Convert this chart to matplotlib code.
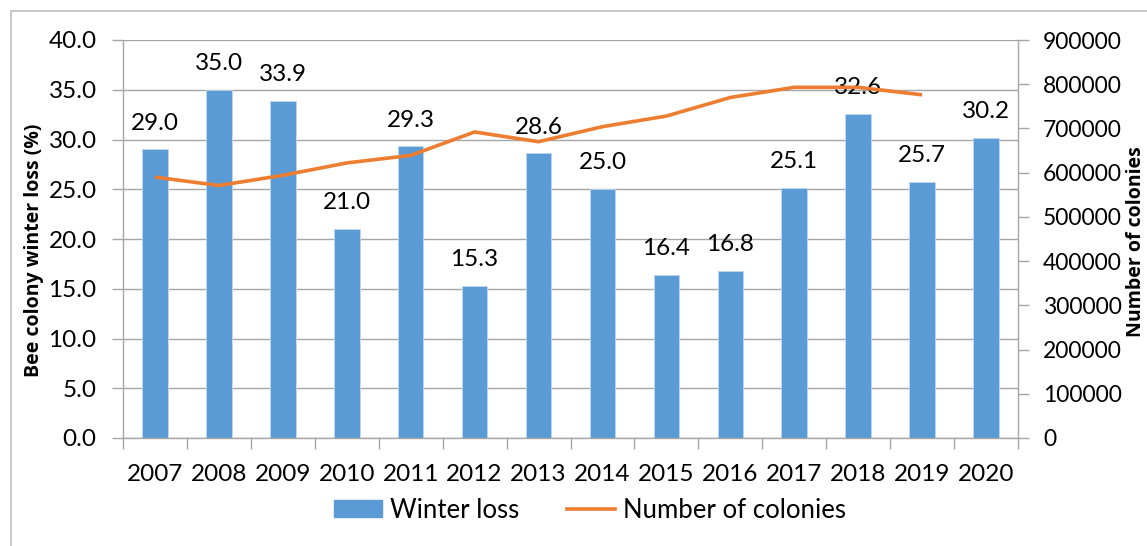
import matplotlib.pyplot as plt
from matplotlib.patches import Rectangle
from matplotlib.lines import Line2D
from matplotlib.patches import Patch
import numpy as np

years = ['2007', '2008', '2009', '2010', '2011', '2012', '2013',
         '2014', '2015', '2016', '2017', '2018', '2019', '2020']
winter_loss = [29.0, 35.0, 33.9, 21.0, 29.3, 15.3, 28.6,
               25.0, 16.4, 16.8, 25.1, 32.6, 25.7, 30.2]
colonies = [590000, 571000, 594000, 622000, 639000, 692000, 670000,
            704000, 728000, 770000, 793000, 793000, 776000]

blue = '#5B9BD5'
orange = '#ED7D31'
grey = '#A6A6A6'
fs = 17.5

plt.rcParams['font.family'] = ['Lato', 'DejaVu Sans']

fig = plt.figure(figsize=(11.47, 5.46), dpi=100)
fig.patches.append(Rectangle((11 / 1147, -0.1), 1.2, 1 - 11 / 546 + 0.1,
                             transform=fig.transFigure, fill=False,
                             edgecolor='#BFBFBF', linewidth=1.2))

ax = fig.add_axes([123 / 1147, 1 - 438 / 546, (1018 - 123) / 1147, (438 - 40) / 546])
x = np.arange(len(years))
ax.bar(x, winter_loss, width=0.4, color=blue, edgecolor='#BDD7EE',
       linewidth=0.6, zorder=2)
ax.set_xlim(-0.5, len(years) - 0.5)
ax.set_ylim(0, 40)
ax.set_yticks(np.arange(0, 41, 5))
ax.set_yticklabels([f'{v:.1f}' for v in np.arange(0, 41, 5)])
ax.yaxis.grid(True, color=grey, linewidth=1, zorder=0)
ax.set_axisbelow(True)
ax.set_xticks(x)
ax.set_xticklabels(years)
ax.set_xticks(np.arange(-0.5, len(years)), minor=True)
ax.tick_params(axis='x', which='major', length=0, labelsize=fs, pad=19)
ax.tick_params(axis='x', which='minor', length=8, color=grey, width=1, direction='out')
ax.tick_params(axis='y', length=8, color=grey, width=1, labelsize=fs, pad=11)
for s in ['top', 'right']:
    ax.spines[s].set_visible(False)
for s in ['left', 'bottom']:
    ax.spines[s].set_color(grey)
    ax.spines[s].set_linewidth(1)

for xi, v in zip(x, winter_loss):
    ax.annotate(f'{v:.1f}', (xi, v), xytext=(0, 19), textcoords='offset points',
                ha='center', va='center', fontsize=fs, zorder=4)

ax2 = ax.twinx()
ax2.plot(x[:len(colonies)], colonies, color=orange, linewidth=2.6, zorder=3,
         solid_capstyle='butt')
ax2.set_ylim(0, 900000)
ax2.set_yticks(np.arange(0, 900001, 100000))
ax2.tick_params(axis='y', length=8, color=grey, width=1, labelsize=16.5, pad=10)
for s in ['top', 'left', 'bottom']:
    ax2.spines[s].set_visible(False)
ax2.spines['right'].set_color(grey)
ax2.spines['right'].set_linewidth(1)

fig.text(34 / 1147, 1 - 250 / 546, 'Bee colony winter loss (%)', rotation=90,
         ha='center', va='center', fontsize=14, fontweight='bold', family='Open Sans')
fig.text(1146 / 1147, 1 - 242 / 546, 'Number of colonies', rotation=90,
         ha='right', va='center', fontsize=14, fontweight='bold', family='Open Sans')

handles = [Patch(facecolor=blue, edgecolor=blue),
           Line2D([0], [0], color=orange, linewidth=2.6)]
fig.legend(handles, ['Winter loss', 'Number of colonies'], loc='center',
           bbox_to_anchor=(590 / 1147, 1 - 510 / 546), ncol=2, frameon=False,
           fontsize=18.5, handlelength=1.87, handleheight=0.6, columnspacing=1.87,
           handletextpad=0.31)

fig.savefig('out.png', dpi=100)
